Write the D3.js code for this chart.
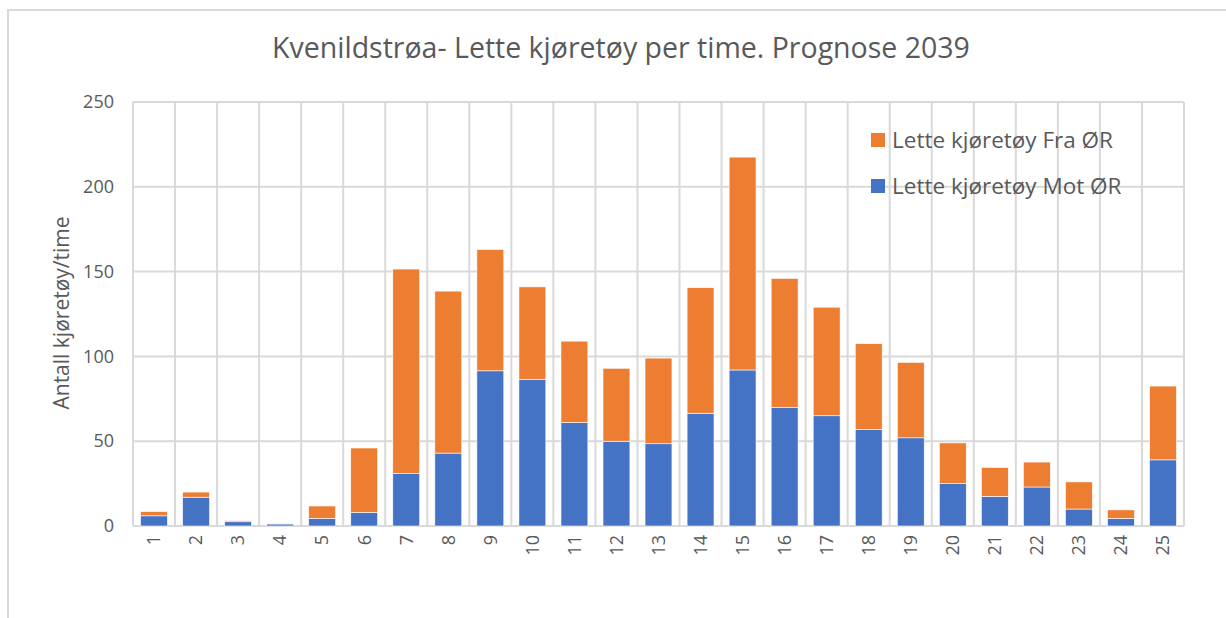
<!DOCTYPE html>
<html>
<meta charset="utf-8">
<head>
  <script src="https://d3js.org/d3.v7.min.js"></script>
</head>
<style>
  body {
    margin: 0;
    background-color: white;
    font-family: 'Open Sans', sans-serif;
  }
</style>
<body>
<script>
  // hours 1..25
  var hours = d3.range(1, 26).map(String);
  var motOR = [6, 17, 2.5, 1.2, 4.5, 8, 31, 43, 91.5, 86.5, 61, 50, 48.5, 66.5, 92, 70, 65, 57, 52, 25, 17.5, 23, 10, 4.5, 39];
  var fraOR = [2.5, 3, 0.6, 0.1, 7.3, 38, 120.5, 95.5, 71.5, 54.5, 48, 43, 50.5, 74, 125.5, 76, 64, 50.5, 44.5, 24, 17, 14.7, 16, 5, 43.5];
  var yTicks = [0, 50, 100, 150, 200, 250];
  var seriesNames = ["Lette kjøretøy Mot ØR", "Lette kjøretøy Fra ØR"];
  var colors = ["#4472c4", "#ed7d31"];

  var w = 1226, h = 618;
  var svg = d3.select("body").append("svg")
    .attr("width", w)
    .attr("height", h);

  // outer frame of the chart object
  svg.append("path")
    .attr("d", "M8,618 V10 H1226")
    .attr("fill", "none")
    .attr("stroke", "#d9d9d9")
    .attr("stroke-width", 2);

  var pLeft = 133, pRight = 1184, pTop = 102, pBottom = 526;

  var x = d3.scaleBand().domain(hours).range([pLeft, pRight]).paddingInner(0.36).paddingOuter(0.18);
  var y = d3.scaleLinear().domain([0, 250]).range([pBottom, pTop]);

  // gridlines, horizontal
  svg.selectAll("line.hgrid")
    .data(yTicks)
    .enter().append("line")
    .attr("class", "hgrid")
    .attr("x1", pLeft).attr("x2", pRight)
    .attr("y1", function(d){ return y(d); })
    .attr("y2", function(d){ return y(d); })
    .attr("stroke", "#d9d9d9")
    .attr("stroke-width", 2);

  // vertical gridlines between categories
  var vlines = d3.range(0, hours.length + 1).map(function(i){ return pLeft + i * (pRight - pLeft) / hours.length; });
  svg.selectAll("line.vgrid")
    .data(vlines)
    .enter().append("line")
    .attr("class", "vgrid")
    .attr("x1", function(d){ return d; }).attr("x2", function(d){ return d; })
    .attr("y1", pTop).attr("y2", pBottom)
    .attr("stroke", "#d9d9d9")
    .attr("stroke-width", 2);

  var rows = hours.map(function(hr, i){ return {hour: hr, mot: motOR[i], fra: fraOR[i]}; });
  var stack = d3.stack().keys(["mot", "fra"])(rows);

  svg.selectAll("g.series")
    .data(stack)
    .enter().append("g")
    .attr("class", "series")
    .attr("fill", function(d, i){ return colors[i]; })
    .selectAll("rect")
    .data(function(d){ return d; })
    .enter().append("rect")
    .attr("x", function(d){ return x(d.data.hour); })
    .attr("width", x.bandwidth())
    .attr("y", function(d){ return y(d[1]); })
    .attr("height", function(d){ return y(d[0]) - y(d[1]); })
    .attr("stroke", "white")
    .attr("stroke-width", 0.6);

  // y axis labels
  var yAxis = d3.axisLeft(y).tickValues(yTicks).tickSize(0).tickPadding(19);
  var gy = svg.append("g")
    .attr("transform", "translate(" + pLeft + ",0)")
    .call(yAxis);
  gy.select(".domain").remove();
  gy.selectAll("text")
    .attr("font-family", "'Open Sans', sans-serif")
    .attr("font-size", 18)
    .attr("fill", "#595959");

  // x axis labels, rotated
  var gx = svg.append("g")
    .attr("transform", "translate(0," + pBottom + ")")
    .call(d3.axisBottom(x).tickSize(0));
  gx.select(".domain").remove();
  gx.selectAll("text")
    .attr("font-family", "'Open Sans', sans-serif")
    .attr("font-size", 18)
    .attr("fill", "#595959")
    .attr("transform", "rotate(-90)")
    .attr("text-anchor", "end")
    .attr("dy", "0.35em")
    .attr("x", -9)
    .attr("y", 0);

  // y axis title
  svg.append("text")
    .attr("transform", "translate(69,313) rotate(-90)")
    .attr("text-anchor", "middle")
    .attr("font-family", "'Open Sans', sans-serif")
    .attr("font-size", 21)
    .attr("fill", "#595959")
    .text("Antall kjøretøy/time");

  // title
  svg.append("text")
    .attr("x", 621)
    .attr("y", 58)
    .attr("text-anchor", "middle")
    .attr("font-family", "'Open Sans', sans-serif")
    .attr("font-size", 28.5)
    .attr("fill", "#595959")
    .text("Kvenildstrøa- Lette kjøretøy per time. Prognose 2039");

  // legend, Fra first
  var legendItems = [{name: seriesNames[1], color: colors[1]}, {name: seriesNames[0], color: colors[0]}];
  var lg = svg.selectAll("g.legend")
    .data(legendItems)
    .enter().append("g")
    .attr("class", "legend")
    .attr("transform", function(d, i){ return "translate(871," + (133 + i * 46) + ")"; });
  lg.append("rect")
    .attr("width", 14).attr("height", 14)
    .attr("fill", function(d){ return d.color; });
  lg.append("text")
    .attr("x", 21)
    .attr("y", 7)
    .attr("dy", "0.35em")
    .attr("font-family", "'Open Sans', sans-serif")
    .attr("font-size", 22.5)
    .attr("fill", "#595959")
    .text(function(d){ return d.name; });
</script>
</body>
</html>
